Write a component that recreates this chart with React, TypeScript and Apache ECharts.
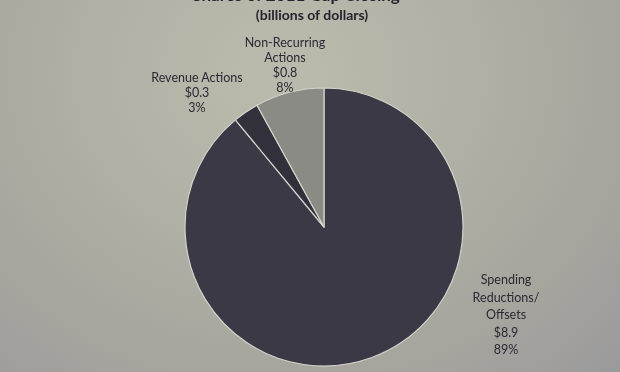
import React, { useEffect, useRef } from "react";
import * as echarts from "echarts";

const categories = ["Spending\nReductions/\nOffsets", "Revenue Actions", "Non-Recurring\nActions"];
const values = [8.9, 0.3, 0.8];
const sliceColors = ["#3a3945", "#32313b", "#8b8b86"];
const titleText = "Shares of 2011 Gap Closing";
const subtitleText = "(billions of dollars)";

export default function App() {
  const ref = useRef<HTMLDivElement>(null);
  useEffect(() => {
    if (!ref.current) return;
    const chart = echarts.init(ref.current, null, { renderer: "svg" });
    const labelPos: Record<number, { x: number; y: number; lh: number }> = {
      0: { x: 506, y: 271, lh: 17.5 },
      1: { x: 197, y: 69.5, lh: 15 },
      2: { x: 285, y: 34.5, lh: 15 },
    };
    chart.setOption({
      animation: false,
      backgroundColor: "transparent",
      graphic: [
        {
          type: "text",
          x: 296,
          y: -5.5,
          style: {
            text: titleText,
            font: "bold 17px Lato",
            fill: "#25242e",
            textAlign: "center",
            textVerticalAlign: "middle",
          },
        },
        {
          type: "text",
          x: 312,
          y: 14.5,
          style: {
            text: subtitleText,
            font: "bold 14px Lato",
            fill: "#25242e",
            textAlign: "center",
            textVerticalAlign: "middle",
          },
        },
      ],
      series: [
        {
          type: "pie",
          center: [324, 227],
          radius: 139,
          startAngle: 90,
          clockwise: true,
          percentPrecision: 0,
          itemStyle: { borderColor: "#d4d4cc", borderWidth: 1.2 },
          labelLine: { show: false },
          label: {
            show: true,
            position: "outside",
            formatter: (p: any) => `${p.name}\n$${p.value.toFixed(1)}\n${Math.round(p.percent)}%`,
            fontFamily: "Lato",
            fontSize: 12.5,
            color: "#2a2934",
            align: "center",
            lineHeight: 15,
          },
          labelLayout: (params: any) => {
            const p = labelPos[params.dataIndex];
            return { x: p.x, y: p.y, align: "center", verticalAlign: "top" };
          },
          data: categories.map((name, i) => ({
            name,
            value: values[i],
            itemStyle: { color: sliceColors[i] },
            label: { lineHeight: labelPos[i].lh },
          })),
        },
      ],
    });
    return () => chart.dispose();
  }, []);
  return (
    <div
      style={{
        position: "fixed",
        left: 0,
        top: 0,
        width: 620,
        height: 372,
        background:
          "radial-gradient(ellipse at 45% 20%, #bbbbad 0%, #b1b0a5 40%, #a7a69e 70%, #9b9a9c 100%)",
      }}
    >
      <div ref={ref} style={{ width: 620, height: 372 }} />
    </div>
  );
}
